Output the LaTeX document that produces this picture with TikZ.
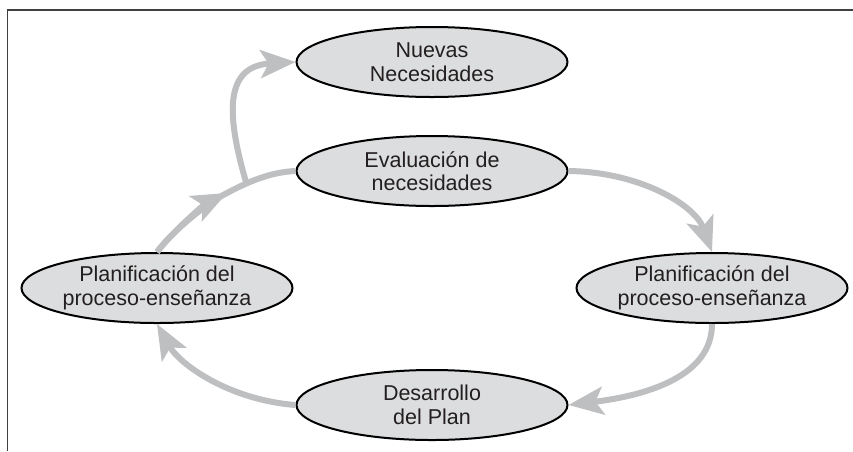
\documentclass[tikz,border=0pt]{standalone}
\usepackage{fontspec}
\setmainfont{Liberation Sans}
\usetikzlibrary{shapes.geometric,arrows.meta}
\definecolor{flow}{HTML}{BEBFC1}
\definecolor{bubble}{HTML}{DCDDDE}
\definecolor{frameline}{HTML}{404040}
\definecolor{ink}{HTML}{231F20}
\tikzset{
  bubble/.style={ellipse, draw=black, line width=2pt, fill=bubble, minimum width=271pt, minimum height=70pt, inner sep=0pt, align=center, text=ink, font=\fontsize{21.5}{23.5}\selectfont},
  flowline/.style={draw=flow, line width=6pt},
  flowarrow/.style={flowline, -{Stealth[length=35pt,width=28pt,inset=8pt]}}
}
\begin{document}
\begin{tikzpicture}[x=1pt,y=-1pt]
\useasboundingbox (0,0) rectangle (853,451);
\draw[frameline, line width=1.2pt] (7.3,451) -- (7.3,10) -- (853,10);
\node[bubble] (nn) at (432,62) {Nuevas\\Necesidades};
\node[bubble] (ev) at (432,171) {Evaluación de\\necesidades};
\node[bubble] (lp) at (157,288) {Planificación del\\proceso-enseñanza};
\node[bubble] (rp) at (712,288) {Planificación del\\proceso-enseñanza};
\node[bubble] (ds) at (432,405) {Desarrollo\\del Plan};
\coordinate (A) at (227,193);
\coordinate (J) at (246,182);
% evaluation -> right planning
\draw[flowarrow] (ev.east) .. controls (640,172) and (695,205) .. (rp.north);
% right planning -> development
\draw[flowarrow] (rp.south) .. controls (712,375) and (650,395) .. (ds.east);
% development -> left planning
\draw[flowarrow] (ds.west) .. controls (230,400) and (180,365) .. (lp.south);
% left planning -> evaluation (arrowhead mid-way)
\draw[flowline] (lp.north) .. controls (172,232) and (205,204) .. (A) .. controls (255,178) and (275,172) .. (ev.west);
\draw[flowarrow] (lp.north) .. controls (172,232) and (205,204) .. (A);
% branch to new needs
\draw[flowarrow] (J) .. controls (225,110) and (226,66) .. (nn.west);
\end{tikzpicture}
\end{document}
